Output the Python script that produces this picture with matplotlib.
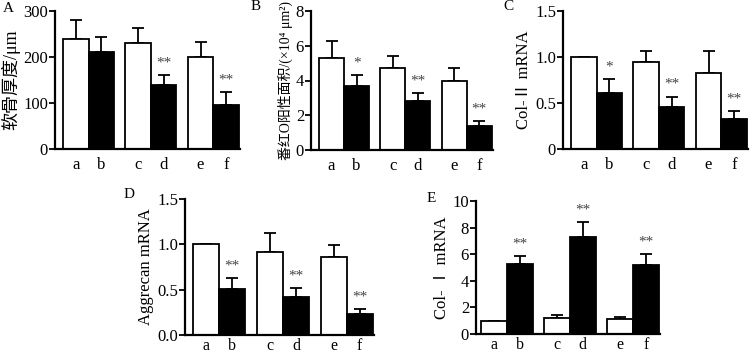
import matplotlib
matplotlib.use("Agg")
import matplotlib.pyplot as plt
import numpy as np

plt.rcParams['font.family'] = ['Liberation Serif', 'Noto Sans CJK SC', 'DejaVu Sans']
plt.rcParams['axes.unicode_minus'] = False

groups = ["a", "b", "c", "d", "e", "f"]

# panel A - cartilage thickness
thick_mean = [240, 210, 230, 140, 200, 95]
thick_err = [40, 33, 32, 21, 32, 28]
thick_sig = ["", "", "", "**", "", "**"]

# panel B - safranin O positive area
saf_mean = [5.3, 3.7, 4.7, 2.8, 4.0, 1.4]
saf_err = [1.0, 0.6, 0.7, 0.5, 0.7, 0.25]
saf_sig = ["", "*", "", "**", "", "**"]

# panel C - Col-II mRNA
col2_mean = [1.0, 0.61, 0.95, 0.46, 0.83, 0.33]
col2_err = [0.0, 0.15, 0.12, 0.11, 0.23, 0.08]
col2_sig = ["", "*", "", "**", "", "**"]

# panel D - Aggrecan mRNA
agg_mean = [1.0, 0.51, 0.91, 0.42, 0.86, 0.23]
agg_err = [0.0, 0.12, 0.22, 0.10, 0.13, 0.06]
agg_sig = ["", "**", "", "**", "", "**"]

# panel E - Col-I mRNA
col1_mean = [1.0, 5.3, 1.2, 7.3, 1.1, 5.2]
col1_err = [0.0, 0.6, 0.2, 1.1, 0.15, 0.8]
col1_sig = ["", "**", "", "**", "", "**"]

W, H = 754, 356
fig = plt.figure(figsize=(W / 100, H / 100), dpi=100)


def px_axes(left, right, top, bottom):
    return fig.add_axes([left / W, 1 - bottom / H, (right - left) / W, (bottom - top) / H])


# bar centres: pairs touching, gap between pairs
xpos = np.array([0.5, 1.5, 2.95, 3.95, 5.4, 6.4])
colors = ["white", "black"] * 3


def panel(ax, mean, err, sig, ymax, yticks, yticklabels, ylabel, letter, letter_xy,
          ylabel_size=12, x0=-0.32, xpad=6, xsize=12):
    ax.bar(xpos, mean, width=1.0, color=colors, edgecolor="black", linewidth=1.3, zorder=2)
    ax.errorbar(xpos, mean, yerr=[np.zeros(len(err)), err], fmt="none", ecolor="black",
                elinewidth=1.3, capsize=4, capthick=1.3, zorder=1)
    for x, m, e, s in zip(xpos, mean, err, sig):
        if s:
            ax.text(x, m + e + ymax * 0.04, s, ha="center", va="bottom", fontsize=11,
                    color="#444444")
    ax.set_xlim(x0, 6.95)
    ax.set_ylim(0, ymax)
    ax.set_yticks(yticks)
    ax.set_yticklabels(yticklabels, fontsize=12)
    ax.set_xticks(xpos)
    ax.set_xticklabels(groups, fontsize=xsize)
    ax.tick_params(axis="x", length=0, pad=xpad)
    ax.tick_params(axis="y", length=4, width=1.3, pad=1)
    for sp in ["top", "right"]:
        ax.spines[sp].set_visible(False)
    for sp in ["left", "bottom"]:
        ax.spines[sp].set_linewidth(1.6)
    ax.set_ylabel(ylabel, fontsize=ylabel_size, labelpad=2)
    fig.text(letter_xy[0] / W, 1 - letter_xy[1] / H, letter, fontsize=11, ha="left", va="center")


axA = px_axes(55, 240, 11, 149)
panel(axA, thick_mean, thick_err, thick_sig, 300, [0, 100, 200, 300], ["0", "100", "200", "300"],
      "软骨厚度/μm", "A", (3, 9), ylabel_size=13)

axB = px_axes(311, 493, 11, 150)
panel(axB, saf_mean, saf_err, saf_sig, 8, [0, 2, 4, 6, 8], ["0", "2", "4", "6", "8"],
      "番红O阳性面积/(×10⁴ μm²)", "B", (251, 7), ylabel_size=10)

axC = px_axes(563, 748, 11, 149)
panel(axC, col2_mean, col2_err, col2_sig, 1.5, [0, 0.5, 1.0, 1.5], ["0", "0.5", "1.0", "1.5"],
      "Col-Ⅱ mRNA", "C", (503, 7))

axD = px_axes(185, 374, 199, 335)
panel(axD, agg_mean, agg_err, agg_sig, 1.5, [0, 0.5, 1.0, 1.5], ["0.0", "0.5", "1.0", "1.5"],
      "Aggrecan mRNA", "D", (124, 195), xpad=2, xsize=11.5)

axE = px_axes(476, 660, 201, 334)
panel(axE, col1_mean, col1_err, col1_sig, 10, [0, 2, 4, 6, 8, 10], ["0", "2", "4", "6", "8", "10"],
      "Col- Ⅰ mRNA", "E", (427, 198), x0=-0.2, xpad=2, xsize=11.5)

fig.savefig("out.png", dpi=100)
